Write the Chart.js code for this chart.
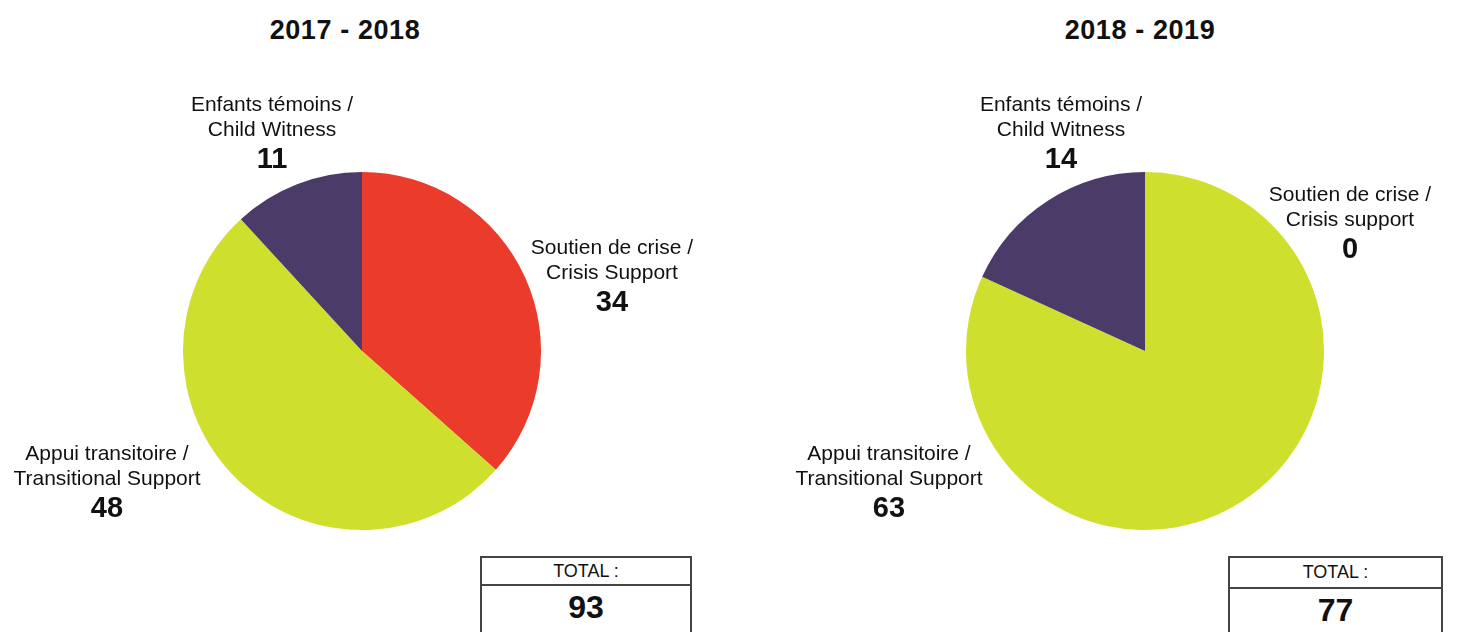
<!DOCTYPE html>
<html>
<head>
<meta charset="utf-8">
<script src="https://cdn.jsdelivr.net/npm/chart.js@4/dist/chart.umd.min.js"></script>
<style>
  body { margin: 0; background: #fff; width: 1458px; height: 632px; overflow: hidden; position: relative;
         font-family: "Liberation Sans", Arial, sans-serif; color: #111; }
  .title { position: absolute; font-weight: bold; font-size: 27px; letter-spacing: 0.6px; transform: translate(-50%, -50%); white-space: nowrap; }
  .label { position: absolute; text-align: center; transform: translateX(-50%); white-space: nowrap; font-size: 21px; line-height: 25px; }
  .label .num { font-weight: bold; font-size: 29px; line-height: 35px; }
  .pie { position: absolute; }
  .total { position: absolute; border: 2px solid #444; border-bottom: none; background: #fff; }
  .total .head { font-size: 18px; text-align: center; border-bottom: 2px solid #444; }
  .total .val { font-weight: bold; font-size: 32px; text-align: center; }
</style>
</head>
<body>
<div id="root"></div>
<script>
const categories = ["Soutien de crise / Crisis Support", "Appui transitoire / Transitional Support", "Enfants témoins / Child Witness"];
const years = ["2017 - 2018", "2018 - 2019"];
const values2017 = [34, 48, 11];
const values2018 = [0, 63, 14];
const labelLines2017 = [["Soutien de crise /", "Crisis Support"], ["Appui transitoire /", "Transitional Support"], ["Enfants témoins /", "Child Witness"]];
const labelLines2018 = [["Soutien de crise /", "Crisis support"], ["Appui transitoire /", "Transitional Support"], ["Enfants témoins /", "Child Witness"]];
const sliceColors = ["#eb3b2a", "#cfdf2d", "#4b3b68"];

class PieBlock {
  constructor(root, opts) {
    this.root = root;
    this.values = opts.values;
    this.lines = opts.lines;

    this.addText("title", opts.title, opts.titlePos);

    const canvas = document.createElement("canvas");
    canvas.className = "pie";
    canvas.style.left = (opts.center[0] - opts.radius) + "px";
    canvas.style.top = (opts.center[1] - opts.radius) + "px";
    canvas.width = opts.radius * 2;
    canvas.height = opts.radius * 2;
    root.appendChild(canvas);

    this.chart = new Chart(canvas, {
      type: "pie",
      data: {
        labels: categories,
        datasets: [{
          data: this.values,
          backgroundColor: sliceColors,
          borderWidth: 0,
          hoverOffset: 0,
        }],
      },
      options: {
        responsive: false,
        animation: false,
        layout: { padding: 0 },
        plugins: { legend: { display: false }, tooltip: { enabled: false } },
      },
    });

    // slice labels: [cx, y of first line]
    opts.labelPos.forEach(([cx, y], i) => {
      const el = document.createElement("div");
      el.className = "label";
      el.style.left = cx + "px";
      el.style.top = (y - 12.5) + "px";
      el.innerHTML = this.lines[i].map((t) => `<div>${t}</div>`).join("") +
        `<div class="num">${this.values[i]}</div>`;
      root.appendChild(el);
    });

    const [x0, x1, top, divider] = opts.totalBox;
    const box = document.createElement("div");
    box.className = "total";
    box.style.left = x0 + "px";
    box.style.top = top + "px";
    box.style.width = (x1 - x0 - 4) + "px";
    box.style.height = (640 - top) + "px";
    const headH = divider - top - 2;
    const total = this.values.reduce((a, b) => a + b, 0);
    box.innerHTML = `<div class="head" style="height:${headH}px;line-height:${headH}px">TOTAL :</div>` +
      `<div class="val" style="line-height:42px">${total}</div>`;
    root.appendChild(box);
  }

  addText(cls, text, [x, y]) {
    const el = document.createElement("div");
    el.className = cls;
    el.style.left = x + "px";
    el.style.top = y + "px";
    el.textContent = text;
    this.root.appendChild(el);
  }
}

const root = document.getElementById("root");

new PieBlock(root, {
  title: years[0],
  titlePos: [345, 30],
  values: values2017,
  lines: labelLines2017,
  center: [362, 351],
  radius: 179,
  labelPos: [[612, 246], [107, 452], [272, 103]],
  totalBox: [480, 692, 556, 584],
});

new PieBlock(root, {
  title: years[1],
  titlePos: [1140, 30],
  values: values2018,
  lines: labelLines2018,
  center: [1145, 351],
  radius: 179,
  labelPos: [[1350, 193], [889, 452], [1061, 103]],
  totalBox: [1228, 1443, 556, 587],
});
</script>
</body>
</html>
